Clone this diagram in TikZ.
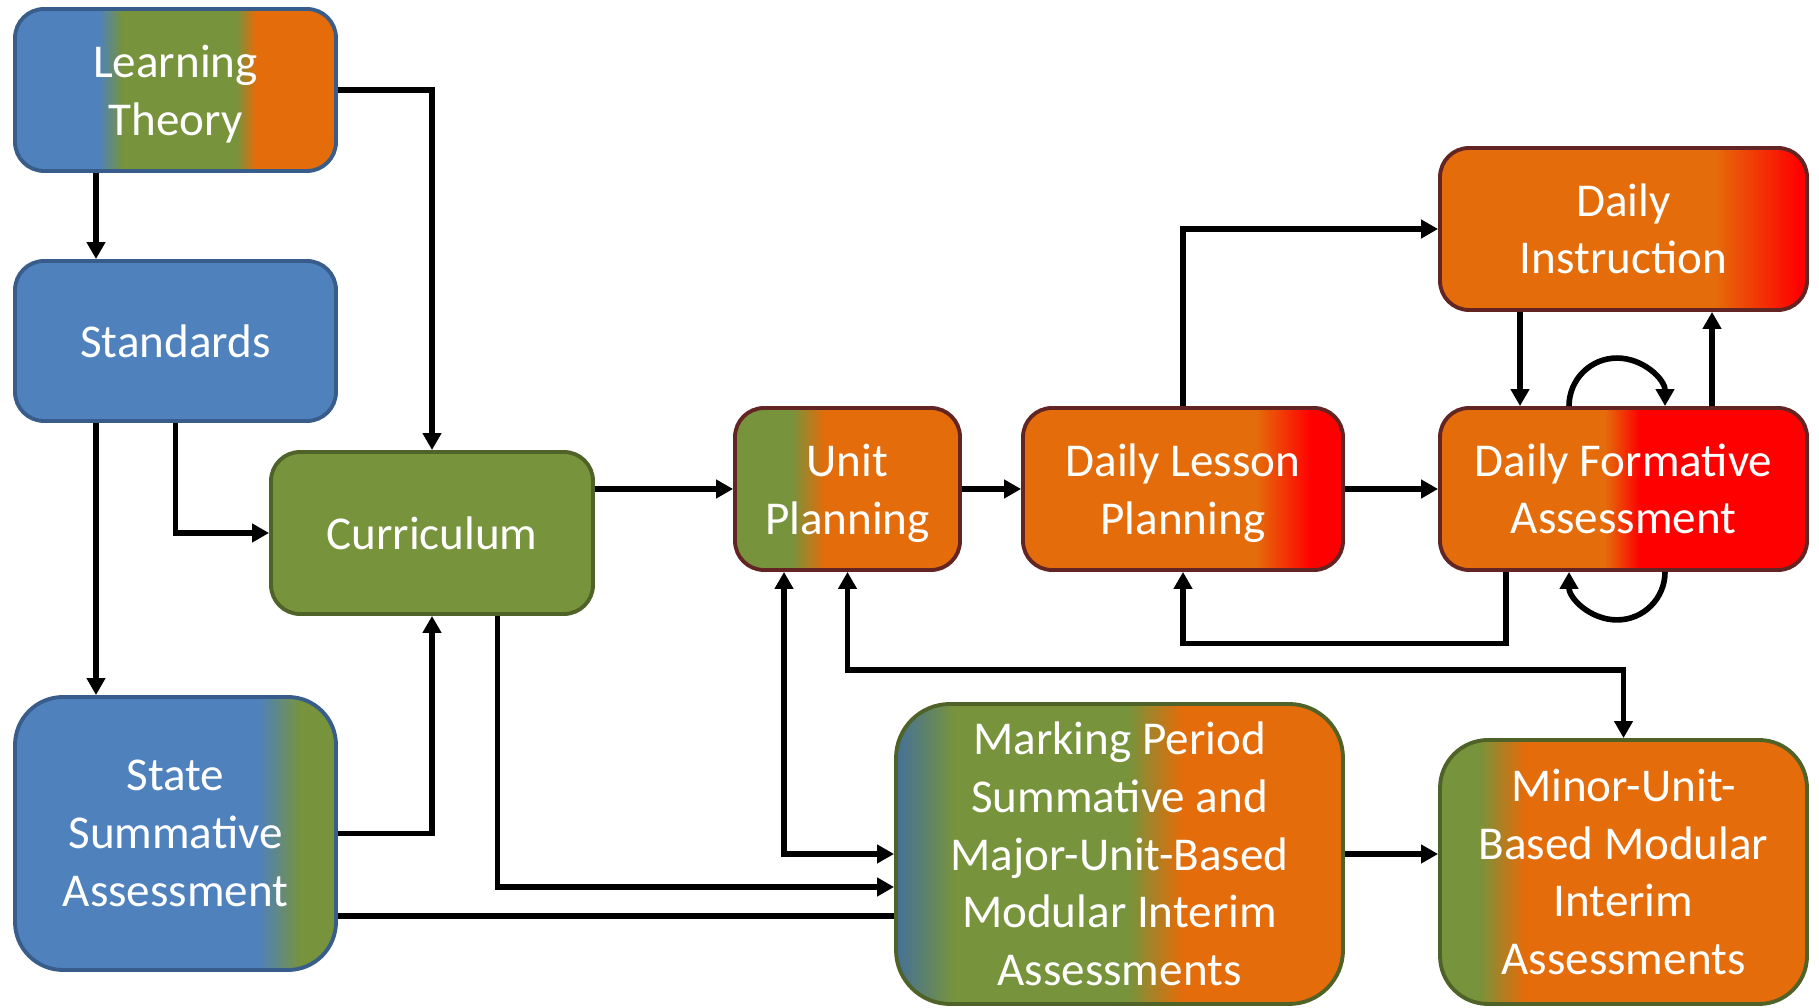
\documentclass[tikz,border=0pt]{standalone}
\usepackage{fontspec}
\setmainfont{Carlito}
\usetikzlibrary{arrows.meta}

\definecolor{oblue}{HTML}{4F81BD}
\definecolor{mblue}{HTML}{44709A}
\definecolor{blueline}{HTML}{385D8A}
\definecolor{ogreen}{HTML}{77933C}
\definecolor{greenline}{HTML}{4F6228}
\definecolor{oorange}{HTML}{E46C0A}
\definecolor{ored}{HTML}{FF0000}
\definecolor{brownline}{HTML}{632523}

% left-to-right fills, 25bp = left edge, 75bp = right edge
\pgfdeclarehorizontalshading{ltshade}{100bp}{color(0bp)=(oblue); color(38bp)=(oblue); color(41.75bp)=(ogreen); color(59.5bp)=(ogreen); color(62.5bp)=(oorange); color(100bp)=(oorange)}
\pgfdeclarehorizontalshading{ssashade}{100bp}{color(0bp)=(oblue); color(63bp)=(oblue); color(69.5bp)=(ogreen); color(100bp)=(ogreen)}
\pgfdeclarehorizontalshading{upshade}{100bp}{color(0bp)=(ogreen); color(37.5bp)=(ogreen); color(45bp)=(oorange); color(100bp)=(oorange)}
\pgfdeclarehorizontalshading{dlpshade}{100bp}{color(0bp)=(oorange); color(61.5bp)=(oorange); color(70bp)=(ored); color(100bp)=(ored)}
\pgfdeclarehorizontalshading{dishade}{100bp}{color(0bp)=(oorange); color(62.5bp)=(oorange); color(74bp)=(ored); color(100bp)=(ored)}
\pgfdeclarehorizontalshading{dfashade}{100bp}{color(0bp)=(oorange); color(47.5bp)=(oorange); color(52.25bp)=(ored); color(100bp)=(ored)}
\pgfdeclarehorizontalshading{mpshade}{100bp}{color(0bp)=(mblue); color(25bp)=(mblue); color(31.5bp)=(ogreen); color(51bp)=(ogreen); color(57bp)=(oorange); color(100bp)=(oorange)}
\pgfdeclarehorizontalshading{minshade}{100bp}{color(0bp)=(ogreen); color(30.25bp)=(ogreen); color(36.5bp)=(oorange); color(100bp)=(oorange)}

\begin{document}
\begin{tikzpicture}[>={Triangle[length=0.17cm,width=0.18cm]},
    box/.style={draw, line width=1.1pt, text=white, align=center, inner sep=0pt,
      font=\fontsize{13.4}{16.4}\selectfont},
    flow/.style={line width=1.6pt}]
    \useasboundingbox (0,0) rectangle (18.19,10.08);

    % Left column
    \node[box, shading=ltshade, draw=blueline, rounded corners=0.29cm,
      minimum width=3.21cm, minimum height=1.62cm] (LT) at (1.755,9.18) {Learning\\\smash{Theory}};
    \node[box, fill=oblue, draw=blueline, rounded corners=0.29cm,
      minimum width=3.21cm, minimum height=1.6cm] (Standards) at (1.755,6.67) {Standards};
    \node[box, shading=ssashade, draw=blueline, rounded corners=0.48cm,
      minimum width=3.21cm, minimum height=2.73cm] (SSA) at (1.755,1.745) {State\\Summative\\Assessment};
    \node[box, fill=ogreen, draw=greenline, rounded corners=0.29cm,
      minimum width=3.22cm, minimum height=1.62cm] (Curriculum) at (4.32,4.75) {Curriculum};

    % Planning row
    \node[box, shading=upshade, draw=brownline, rounded corners=0.29cm,
      minimum width=2.25cm, minimum height=1.62cm] (UP) at (8.475,5.19) {Unit\\\smash{Planning}};
    \node[box, shading=dlpshade, draw=brownline, rounded corners=0.29cm,
      minimum width=3.2cm, minimum height=1.62cm] (DLP) at (11.83,5.19) {Daily Lesson\\\smash{Planning}};
    \node[box, shading=dishade, draw=brownline, rounded corners=0.29cm,
      minimum width=3.67cm, minimum height=1.62cm] (DI) at (16.235,7.79) {Daily\\Instruction};
    \node[box, shading=dfashade, draw=brownline, rounded corners=0.29cm,
      minimum width=3.67cm, minimum height=1.62cm] (DFA) at (16.235,5.19) {Daily Formative\\Assessment};

    % Interim assessments
    \node[box, shading=mpshade, draw=greenline, rounded corners=0.54cm,
      minimum width=4.47cm, minimum height=3.0cm] (Marking) at (11.195,1.54)
      {Marking Period\\Summative and\\Major-Unit-Based\\Modular Interim\\Assessments};
    \node[box, shading=minshade, draw=greenline, rounded corners=0.48cm,
      minimum width=3.67cm, minimum height=2.64cm] (Minor) at (16.235,1.36)
      {Minor-Unit-\\Based Modular\\Interim\\Assessments};

    % Arrows on the left
    \draw[flow,->] ([xshift=-0.795cm]LT.south) -- ([xshift=-0.795cm]Standards.north);
    \draw[flow,->] (LT.east) -| (Curriculum.north);
    \draw[flow,->] ([xshift=-0.795cm]Standards.south) -- ([xshift=-0.795cm]SSA.north);
    \draw[flow,->] (Standards.south) |- (Curriculum.west);
    \draw[flow,->] (SSA.east) -| (Curriculum.south);
    \draw[flow,->] (Curriculum.east |- UP.west) -- (UP.west);
    \draw[flow,->] ([xshift=0.656cm]Curriculum.south) |- ([yshift=-0.33cm]Marking.west);
    \coordinate (ssaout) at ([yshift=-0.825cm]SSA.east);
    \draw[flow] (ssaout) -- (ssaout -| Marking.west);

    % Unit planning links
    \draw[flow,<->] ([xshift=-0.635cm]UP.south) |- (Marking.west);
    \draw[flow,<->] (UP.south) |- ([yshift=0.68cm]Minor.north) -- (Minor.north);
    \draw[flow,->] (UP.east) -- (DLP.west);

    % Daily cycle
    \draw[flow,->] (DLP.north) |- (DI.west);
    \draw[flow,->] (DLP.east) -- (DFA.west);
    \draw[flow,->] ([xshift=-1.175cm]DFA.south) |- ([yshift=-0.715cm]DLP.south) -- (DLP.south);
    \draw[flow,->] ([xshift=-1.035cm]DI.south) -- ([xshift=-1.035cm]DFA.north);
    \draw[flow,->] ([xshift=0.885cm]DFA.north) -- ([xshift=0.885cm]DI.south);
    \draw[flow,->] ([xshift=-0.545cm]DFA.north) arc[start angle=180, end angle=0, radius=0.48cm];
    \draw[flow,->] ([xshift=0.415cm]DFA.south) arc[start angle=0, end angle=-180, radius=0.48cm];

    \draw[flow,->] (Marking.east) -- (Marking.east -| Minor.west);
\end{tikzpicture}
\end{document}
